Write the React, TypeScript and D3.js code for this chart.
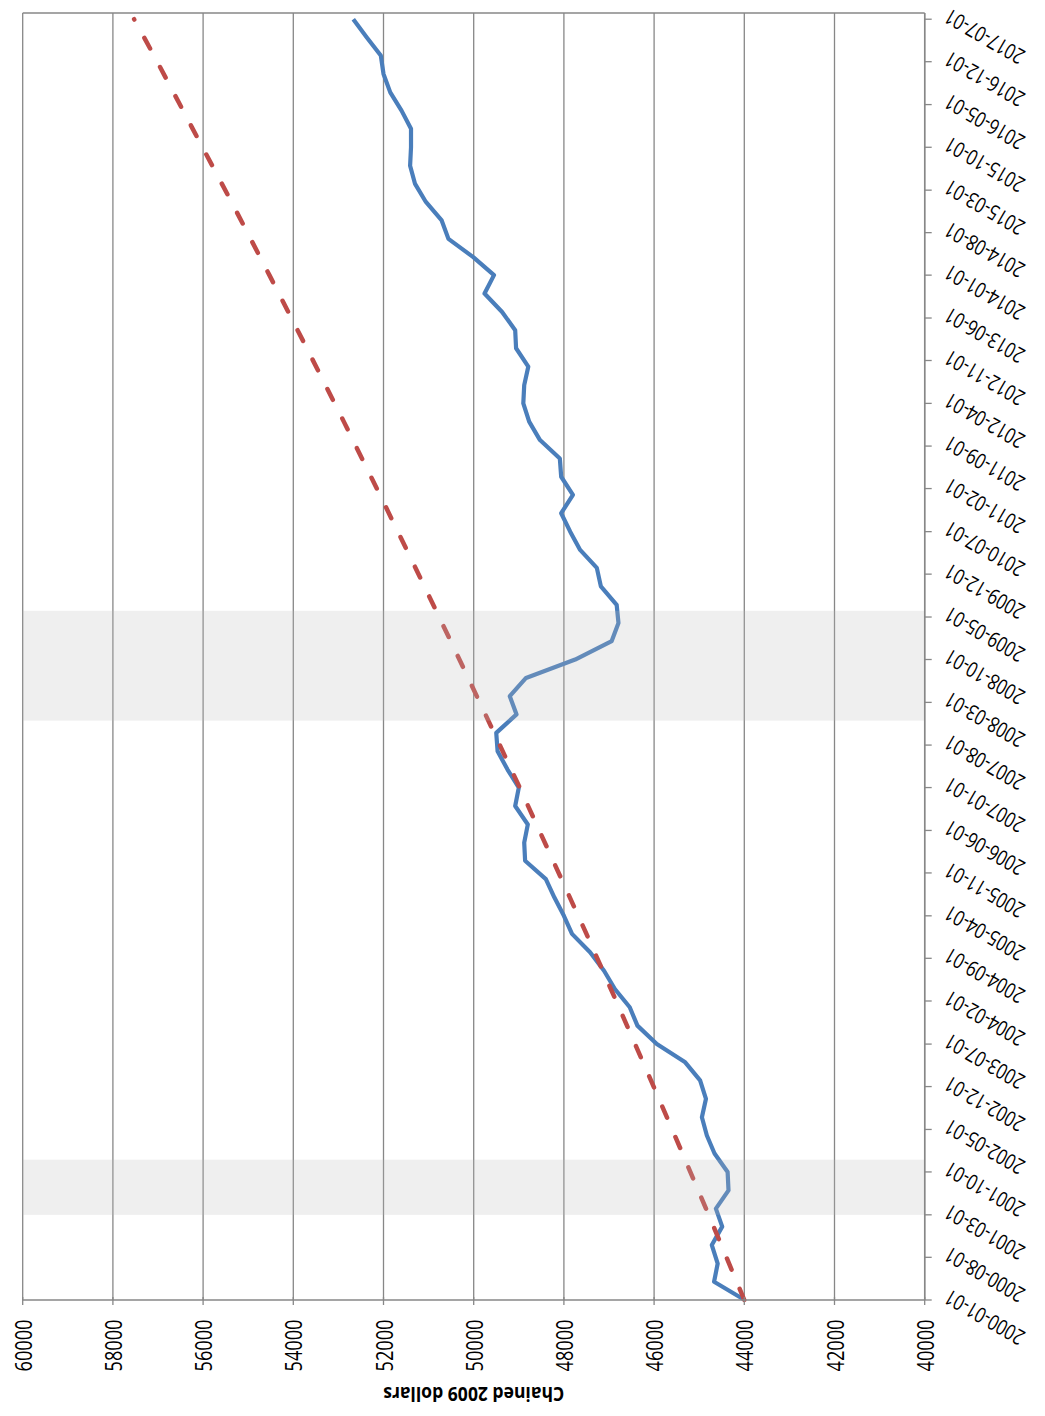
import React from 'react'
import * as d3 from 'd3'

const W = 1045
const H = 1416

// value axis (drawn along the bottom, decreasing to the right)
const valueTicks = [60000, 58000, 56000, 54000, 52000, 50000, 48000, 46000, 44000, 42000, 40000]

// date axis labels (every 7 months)
const dateTicks = [
  '2000-01-01', '2000-08-01', '2001-03-01', '2001-10-01', '2002-05-01', '2002-12-01',
  '2003-07-01', '2004-02-01', '2004-09-01', '2005-04-01', '2005-11-01', '2006-06-01',
  '2007-01-01', '2007-08-01', '2008-03-01', '2008-10-01', '2009-05-01', '2009-12-01',
  '2010-07-01', '2011-02-01', '2011-09-01', '2012-04-01', '2012-11-01', '2013-06-01',
  '2014-01-01', '2014-08-01', '2015-03-01', '2015-10-01', '2016-05-01', '2016-12-01',
  '2017-07-01',
]

// quarterly series, 2000Q1 .. 2017Q3 (chained 2009 dollars)
const seriesValues = [
  43990, 44670, 44590, 44720, 44490, 44630, 44350, 44370, 44660, 44830,
  44940, 44850, 44980, 45310, 45940, 46370, 46540, 46870, 47110, 47420,
  47820, 48000, 48210, 48400, 48860, 48880, 48800, 49080, 49000, 49250,
  49470, 49500, 49050, 49200, 48840, 47750, 46940, 46790, 46830, 47180,
  47270, 47640, 47860, 48060, 47800, 48060, 48090, 48530, 48770, 48900,
  48880, 48790, 49060, 49080, 49370, 49760, 49550, 50010, 50560, 50710,
  51060, 51300, 51410, 51390, 51390, 51600, 51850, 52000, 52060, 52370,
  52670,
]

// trend line (dashed)
const trendDates = [
  '2000-01-01', '2001-01-01', '2002-01-01', '2003-01-01', '2004-01-01', '2005-01-01',
  '2006-01-01', '2007-01-01', '2008-01-01', '2009-01-01', '2010-01-01', '2011-01-01',
  '2012-01-01', '2013-01-01', '2014-01-01', '2015-01-01', '2016-01-01', '2017-01-01',
  '2017-07-01',
]
const trendValues = [
  44000, 44680, 45370, 46070, 46780, 47500, 48240, 48980, 49740, 50510,
  51290, 52080, 52880, 53700, 54530, 55370, 56230, 57090, 57530,
]

// recession shading
const recessions = [
  ['2001-03-01', '2001-12-01'],
  ['2007-12-01', '2009-06-01'],
]

const parse = d3.utcParse('%Y-%m-%d')

const App = () => {
  const left = 22.7, right = 924.7, top = 13, bottom = 1300
  const x = d3.scaleLinear().domain([40000, 60000]).range([right, left])
  const y = d3.scaleUtc().domain([parse('2000-01-01')!, parse('2017-08-01')!]).range([bottom, top])

  const quarters = d3.utcMonth.every(3)!.range(parse('2000-01-01')!, parse('2017-08-01')!)
  const series: [Date, number][] = seriesValues.map((v, i) => [quarters[i], v])
  const trend: [Date, number][] = trendValues.map((v, i) => [parse(trendDates[i])!, v])

  const line = d3.line<[Date, number]>().x(d => x(d[1])).y(d => y(d[0]))

  const grid = '#878787'
  const font = '"Open Sans", "Liberation Sans", sans-serif'

  return (
    <svg width={W} height={H} style={{ position: 'absolute', left: 0, top: 0, background: '#fff' }}>
      {/* gridlines */}
      {valueTicks.map(v => (
        <line key={'g' + v} x1={x(v)} x2={x(v)} y1={top} y2={bottom} stroke={grid} strokeWidth={1.3} />
      ))}
      <line x1={left} x2={right} y1={top} y2={top} stroke={grid} strokeWidth={1.3} />

      {/* series */}
      <path d={line(series)!} fill="none" stroke="#4a7ebb" strokeWidth={4.2} strokeLinejoin="round" />
      <path d={line(trend)!} fill="none" stroke="#be4b48" strokeWidth={4.5}
        strokeDasharray="12 21" strokeLinecap="round" />

      {/* recession bands */}
      {recessions.map(([a, b]) => (
        <rect key={a} x={left} width={right - left} y={y(parse(b)!)}
          height={y(parse(a)!) - y(parse(b)!)} fill="rgb(186,186,186)" fillOpacity={0.23} />
      ))}

      {/* value axis */}
      <line x1={left} x2={right} y1={bottom} y2={bottom} stroke={grid} strokeWidth={1.5} />
      {valueTicks.map(v => (
        <g key={'v' + v}>
          <line x1={x(v)} x2={x(v)} y1={bottom - 3} y2={bottom + 5} stroke={grid} strokeWidth={1.3} />
          <text transform={`translate(${x(v)},1345.5) rotate(-90)`} textAnchor="middle"
            dominantBaseline="central" fontFamily={font} fontSize={23.5} fill="#000"
            textLength={52} lengthAdjust="spacingAndGlyphs">{v}</text>
        </g>
      ))}

      {/* date axis */}
      <line x1={right} x2={right} y1={top} y2={bottom} stroke={grid} strokeWidth={1.5} />
      {dateTicks.map(t => {
        const ty = y(parse(t)!)
        return (
          <g key={t}>
            <line x1={right} x2={right + 7} y1={ty} y2={ty} stroke={grid} strokeWidth={1.3} />
            <text transform={`translate(946,${ty - 4}) rotate(210)`} textAnchor="end"
              dominantBaseline="central" fontFamily={font} fontSize={21.5} fill="#000"
              textLength={88} lengthAdjust="spacingAndGlyphs">{t}</text>
          </g>
        )
      })}

      {/* axis title */}
      <text transform={`translate(${(left + right) / 2},1394) rotate(180)`} textAnchor="middle"
        dominantBaseline="central" fontFamily={font} fontSize={20} fontWeight="bold" fill="#000"
        textLength={181} lengthAdjust="spacingAndGlyphs">Chained 2009 dollars</text>
    </svg>
  )
}

export default App
